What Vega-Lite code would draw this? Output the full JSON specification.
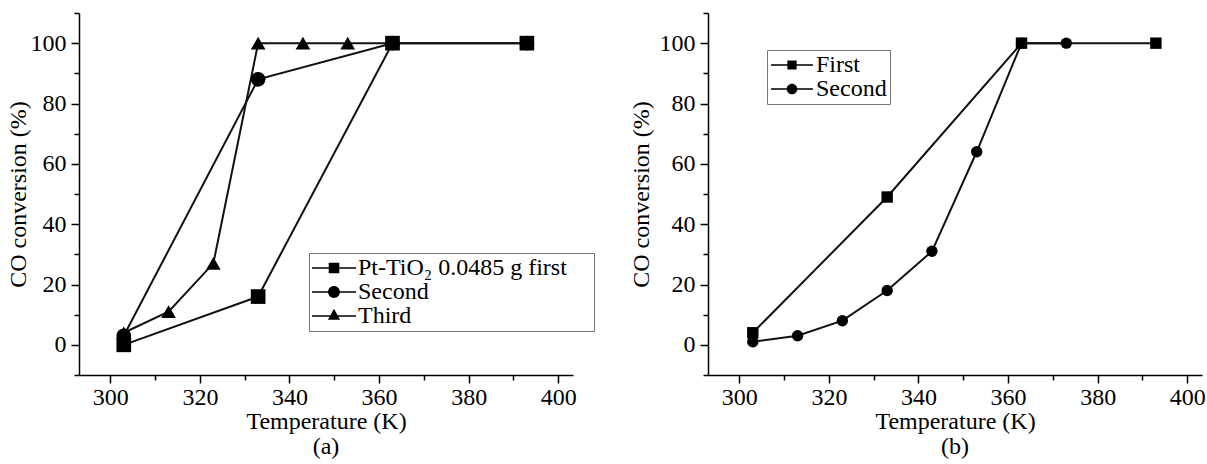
{
  "$schema": "https://vega.github.io/schema/vega-lite/v6.json",
  "padding": {"left": 6, "top": 12, "right": 0, "bottom": 0},
  "autosize": {"type": "pad"},
  "spacing": 34,
  "config": {
    "view": {"stroke": null},
    "font": "Liberation Serif, Times New Roman, serif",
    "axis": {
      "grid": false,
      "domainColor": "black", "domainWidth": 1.5,
      "tickColor": "black", "tickWidth": 1.5,
      "labelColor": "black", "titleColor": "black",
      "labelFont": "Liberation Serif, Times New Roman, serif", "titleFont": "Liberation Serif, Times New Roman, serif",
      "labelFontSize": 24, "titleFontSize": 24, "titleFontWeight": "normal"
    },
    "legend": {
      "title": null,
      "labelFont": "Liberation Serif, Times New Roman, serif", "labelFontSize": 24, "labelColor": "black", "labelLimit": 500,
      "symbolSize": 484, "symbolStrokeWidth": 0, "symbolFillColor": "black",
      "symbolOpacity": 1,
      "symbolOffset": 10, "labelOffset": 12,
      "padding": 3, "rowPadding": 0,
      "strokeColor": "#777", "fillColor": "white"
    },
    "title": {"font": "Liberation Serif, Times New Roman, serif", "fontSize": 24, "fontWeight": "normal", "color": "black"}
  },
  "hconcat": [
    {
      "width": 494, "height": 362,
      "title": {"text": "(a)", "orient": "bottom", "anchor": "middle", "offset": 2},
      "data": {"values": [
        {"series": "Pt-TiO₂ 0.0485 g first", "T": 303, "C": 0},
        {"series": "Pt-TiO₂ 0.0485 g first", "T": 333, "C": 16},
        {"series": "Pt-TiO₂ 0.0485 g first", "T": 363, "C": 100},
        {"series": "Pt-TiO₂ 0.0485 g first", "T": 393, "C": 100},
        {"series": "Second", "T": 303, "C": 3},
        {"series": "Second", "T": 333, "C": 88},
        {"series": "Second", "T": 363, "C": 100},
        {"series": "Second", "T": 393, "C": 100},
        {"series": "Third", "T": 303, "C": 4},
        {"series": "Third", "T": 313, "C": 11},
        {"series": "Third", "T": 323, "C": 27},
        {"series": "Third", "T": 333, "C": 100},
        {"series": "Third", "T": 343, "C": 100},
        {"series": "Third", "T": 353, "C": 100},
        {"series": "Third", "T": 363, "C": 100}
      ]},
      "layer": [
        {
          "mark": {"type": "line", "color": "#111", "strokeWidth": 2},
          "encoding": {
            "x": {"field": "T", "type": "quantitative",
              "scale": {"domain": [293, 403.3], "nice": false, "zero": false},
              "axis": {"orient": "bottom", "values": [300, 320, 340, 360, 380, 400], "tickSize": 8, "labelPadding": 2, "labelFlush": false, "title": "Temperature (K)", "titlePadding": 0}},
            "y": {"field": "C", "type": "quantitative",
              "scale": {"domain": [-10, 110], "nice": false, "zero": false},
              "axis": {"orient": "left", "values": [0, 20, 40, 60, 80, 100], "tickSize": 8, "labelPadding": 5, "title": "CO conversion (%)", "titlePadding": 0}},
            "detail": {"field": "series", "type": "nominal"}
          }
        },
        {
          "mark": {"type": "point", "filled": true, "color": "black", "opacity": 1, "size": 215},
          "encoding": {
            "x": {"field": "T", "type": "quantitative",
              "scale": {"domain": [293, 403.3], "nice": false, "zero": false},
              "axis": {"orient": "bottom", "values": [310, 330, 350, 370, 390], "tickSize": 5, "labels": false, "domain": false, "title": null}},
            "y": {"field": "C", "type": "quantitative",
              "scale": {"domain": [-10, 110], "nice": false, "zero": false},
              "axis": {"orient": "left", "values": [-10, 10, 30, 50, 70, 90, 110], "tickSize": 5, "labels": false, "domain": false, "title": null}},
            "shape": {"field": "series", "type": "nominal",
              "scale": {"domain": ["Pt-TiO₂ 0.0485 g first", "Second", "Third"], "range": ["square", "circle", "triangle-up"]},
              "legend": null}
          }
        },
        {
          "transform": [{"filter": "datum.T < 0"}],
          "mark": {"type": "point", "filled": true, "color": "black", "opacity": 1},
          "encoding": {
            "x": {"field": "T", "type": "quantitative", "scale": {"domain": [293, 403.3], "nice": false, "zero": false}, "axis": null},
            "y": {"field": "C", "type": "quantitative", "scale": {"domain": [-10, 110], "nice": false, "zero": false}, "axis": null},
            "shape": {"field": "series", "type": "nominal",
              "scale": {"domain": ["Pt-TiO₂ 0.0485 g first", "Second", "Third"],
                "range": [
                  "M-2,-0.07H2V0.07H-2ZM-0.48,-0.48H0.48V0.48H-0.48Z",
                  "M-2,-0.07H2V0.07H-2ZM0.54,0A0.54,0.54 0 1,1 -0.54,0A0.54,0.54 0 1,1 0.54,0Z",
                  "M-2,-0.07H2V0.07H-2ZM0,-0.65L0.55,0.35H-0.55Z"]},
              "legend": {"orient": "none", "legendX": 230, "legendY": 240,
                "labelExpr": "datum.label + '\u00a0\u00a0\u00a0\u00a0\u200b'"}}
          }
        }
      ],
      "resolve": {"axis": {"x": "independent", "y": "independent"}, "scale": {"shape": "independent"}}
    },
    {
      "width": 494, "height": 362,
      "title": {"text": "(b)", "orient": "bottom", "anchor": "middle", "offset": 2},
      "data": {"values": [
        {"series": "First", "T": 303, "C": 4},
        {"series": "First", "T": 333, "C": 49},
        {"series": "First", "T": 363, "C": 100},
        {"series": "First", "T": 393, "C": 100},
        {"series": "Second", "T": 303, "C": 1},
        {"series": "Second", "T": 313, "C": 3},
        {"series": "Second", "T": 323, "C": 8},
        {"series": "Second", "T": 333, "C": 18},
        {"series": "Second", "T": 343, "C": 31},
        {"series": "Second", "T": 353, "C": 64},
        {"series": "Second", "T": 363, "C": 100},
        {"series": "Second", "T": 373, "C": 100}
      ]},
      "layer": [
        {
          "mark": {"type": "line", "color": "#111", "strokeWidth": 2},
          "encoding": {
            "x": {"field": "T", "type": "quantitative",
              "scale": {"domain": [293, 403.3], "nice": false, "zero": false},
              "axis": {"orient": "bottom", "values": [300, 320, 340, 360, 380, 400], "tickSize": 8, "labelPadding": 2, "labelFlush": false, "title": "Temperature (K)", "titlePadding": 0}},
            "y": {"field": "C", "type": "quantitative",
              "scale": {"domain": [-10, 110], "nice": false, "zero": false},
              "axis": {"orient": "left", "values": [0, 20, 40, 60, 80, 100], "tickSize": 8, "labelPadding": 5, "title": "CO conversion (%)", "titlePadding": 6}},
            "detail": {"field": "series", "type": "nominal"}
          }
        },
        {
          "mark": {"type": "point", "filled": true, "color": "black", "opacity": 1, "size": 130},
          "encoding": {
            "x": {"field": "T", "type": "quantitative",
              "scale": {"domain": [293, 403.3], "nice": false, "zero": false},
              "axis": {"orient": "bottom", "values": [310, 330, 350, 370, 390], "tickSize": 5, "labels": false, "domain": false, "title": null}},
            "y": {"field": "C", "type": "quantitative",
              "scale": {"domain": [-10, 110], "nice": false, "zero": false},
              "axis": {"orient": "left", "values": [-10, 10, 30, 50, 70, 90, 110], "tickSize": 5, "labels": false, "domain": false, "title": null}},
            "shape": {"field": "series", "type": "nominal",
              "scale": {"domain": ["First", "Second"], "range": ["square", "circle"]},
              "legend": null}
          }
        },
        {
          "transform": [{"filter": "datum.T < 0"}],
          "mark": {"type": "point", "filled": true, "color": "black", "opacity": 1},
          "encoding": {
            "x": {"field": "T", "type": "quantitative", "scale": {"domain": [293, 403.3], "nice": false, "zero": false}, "axis": null},
            "y": {"field": "C", "type": "quantitative", "scale": {"domain": [-10, 110], "nice": false, "zero": false}, "axis": null},
            "shape": {"field": "series", "type": "nominal",
              "scale": {"domain": ["First", "Second"],
                "range": [
                  "M-1.9,-0.07H1.9V0.07H-1.9ZM-0.42,-0.42H0.42V0.42H-0.42Z",
                  "M-1.9,-0.07H1.9V0.07H-1.9ZM0.48,0A0.48,0.48 0 1,1 -0.48,0A0.48,0.48 0 1,1 0.48,0Z"]},
              "legend": {"orient": "none", "legendX": 59, "legendY": 37}}
          }
        }
      ],
      "resolve": {"axis": {"x": "independent", "y": "independent"}, "scale": {"shape": "independent"}}
    }
  ]
}
